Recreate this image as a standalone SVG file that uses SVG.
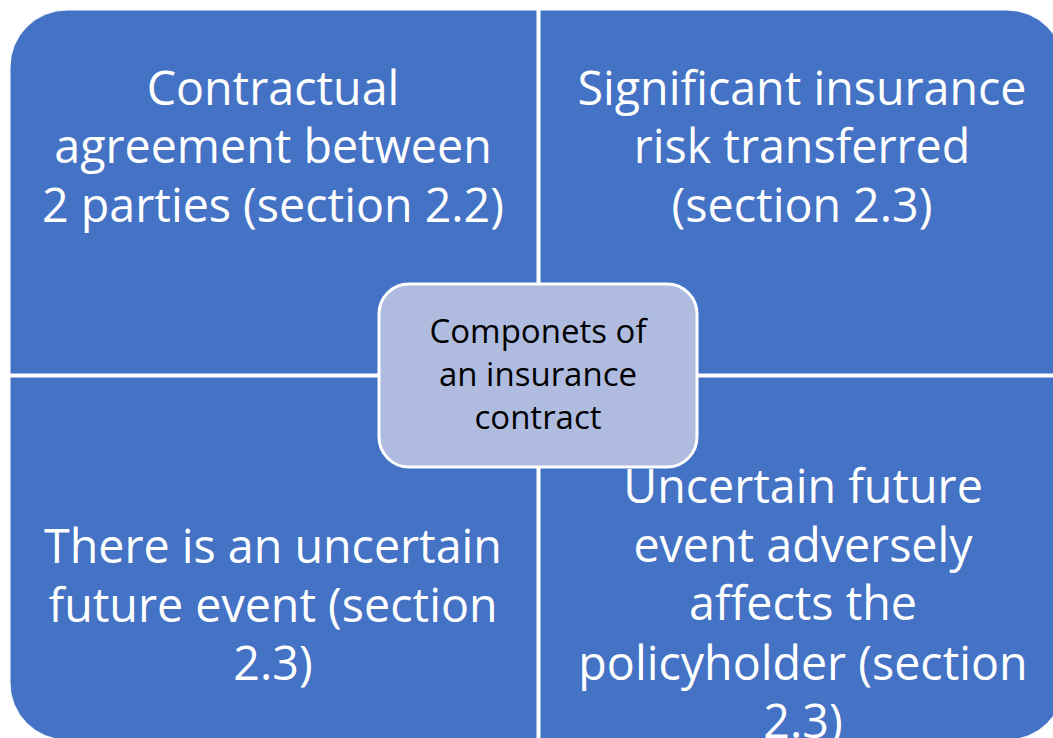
<svg xmlns="http://www.w3.org/2000/svg" width="1053" height="738" viewBox="0 0 1053 738">
  <defs>
    <style>
      .quad { fill: #4472C4; stroke: #FFFFFF; stroke-width: 1; }
      .qtext { font-family: "Open Sans", "Noto Sans", sans-serif; font-size: 46.6px; fill: #FFFFFF; text-anchor: middle; }
      .hub { fill: #AFBBDF; stroke: #FFFFFF; stroke-width: 3; }
      .htext { font-family: "Open Sans", "Noto Sans", sans-serif; font-size: 33px; fill: #000000; text-anchor: middle; }
    </style>
  </defs>
  <rect width="1053" height="738" fill="#FFFFFF"/>

  <g id="connectors"></g>

  <!-- top-left quadrant -->
  <g id="node-contractual">
    <path class="quad" d="M10,67 A57,57 0 0 1 67,10 L537,10 L537,374 L10,374 Z"/>
    <text class="qtext" x="273" y="105">Contractual</text>
    <text class="qtext" x="273" y="163">agreement between</text>
    <text class="qtext" x="273" y="222">2 parties (section 2.2)</text>
  </g>

  <!-- top-right quadrant -->
  <g id="node-risk">
    <path class="quad" d="M540,10 L1007,10 A57,57 0 0 1 1064,67 L1064,374 L540,374 Z"/>
    <text class="qtext" x="802" y="105">Significant insurance</text>
    <text class="qtext" x="802" y="163">risk transferred</text>
    <text class="qtext" x="802" y="222">(section 2.3)</text>
  </g>

  <!-- bottom-left quadrant -->
  <g id="node-uncertain">
    <path class="quad" d="M10,377 L537,377 L537,740 L67,740 A57,57 0 0 1 10,683 Z"/>
    <text class="qtext" x="273" y="563">There is an uncertain</text>
    <text class="qtext" x="273" y="622">future event (section</text>
    <text class="qtext" x="273" y="680">2.3)</text>
  </g>

  <!-- bottom-right quadrant; last line overflows the shape's lower edge -->
  <g id="node-adverse">
    <path class="quad" d="M540,377 L1064,377 L1064,683 A57,57 0 0 1 1007,740 L540,740 Z"/>
    <text class="qtext" x="803" y="503">Uncertain future</text>
    <text class="qtext" x="803" y="562">event adversely</text>
    <text class="qtext" x="803" y="620">affects the</text>
    <text class="qtext" x="803" y="680">policyholder (section</text>
    <text class="qtext" x="803" y="738">2.3)</text>
  </g>

  <!-- central hub -->
  <g id="node-hub">
    <rect class="hub" x="379" y="284" width="318" height="183" rx="30" ry="30"/>
    <text class="htext" x="538" y="343">Componets of</text>
    <text class="htext" x="538" y="386">an insurance</text>
    <text class="htext" x="538" y="429">contract</text>
  </g>
</svg>
